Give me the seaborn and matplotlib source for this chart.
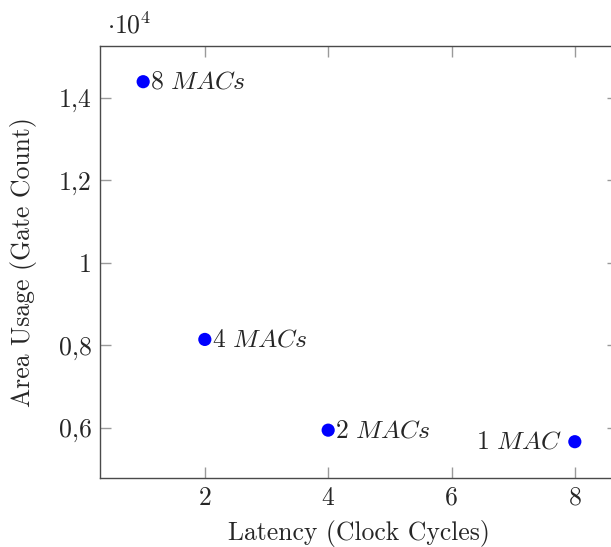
import numpy as np
import pandas as pd
import matplotlib
matplotlib.use("Agg")
import matplotlib.pyplot as plt
import seaborn as sns

# Design points: latency vs. area for different numbers of MAC units
latency = [1, 2, 4, 8]
area = [14390, 8140, 5940, 5660]
point_labels = [r"$8\ MACs$", r"$4\ MACs$", r"$2\ MACs$", r"$1\ MAC$"]
label_side = ["right", "right", "right", "left"]

xticks = [2, 4, 6, 8]
yticks = [6000, 8000, 10000, 12000, 14000]
ytick_labels = ["0,6", "0,8", "1", "1,2", "1,4"]

sns.set_style("ticks")
plt.rcParams["font.family"] = "serif"
plt.rcParams["font.serif"] = ["cmr10"]
plt.rcParams["mathtext.fontset"] = "cm"
plt.rcParams["axes.unicode_minus"] = False
plt.rcParams["axes.formatter.use_mathtext"] = True

FS = 18.5

df = pd.DataFrame({"latency": latency, "area": area})

fig = plt.figure(figsize=(6.11, 5.47), dpi=100)
W, H = 611, 547
ax = fig.add_axes([100 / W, (H - 477.7) / H, 518 / W, 432 / H])

sns.scatterplot(data=df, x="latency", y="area", ax=ax, color="#0000ff",
                s=90, edgecolor="none", linewidth=0, zorder=3)

# enlarge axis limits by 10% of the data range on each side
def enlarged(v, frac=0.1):
    lo, hi = min(v), max(v)
    pad = (hi - lo) * frac
    return lo - pad, hi + pad

ax.set_xlim(*enlarged(latency))
ax.set_ylim(*enlarged(area))

ax.set_xticks(xticks)
ax.set_xticklabels([str(t) for t in xticks], fontsize=FS)
ax.set_yticks(yticks)
ax.set_yticklabels(ytick_labels, fontsize=FS)

ax.tick_params(axis="both", which="both", direction="in", length=8,
               width=1.0, color="#9a9a9a", pad=6,
               top=True, right=True, labeltop=False, labelright=False)

for sp in ax.spines.values():
    sp.set_visible(True)
    sp.set_color("#4a4a4a")
    sp.set_linewidth(1.0)

ax.set_xlabel("Latency (Clock Cycles)", fontsize=FS)
ax.set_ylabel("Area Usage (Gate Count)", fontsize=FS)
ax.xaxis.set_label_coords(0.5, -0.098)
ax.yaxis.set_label_coords(-0.121, 0.5)

for x, y, lab, side in zip(latency, area, point_labels, label_side):
    if side == "right":
        ax.annotate(lab, (x, y), xytext=(5, 0), textcoords="offset points",
                    ha="left", va="center", fontsize=FS, zorder=4)
    else:
        ax.annotate(lab, (x, y), xytext=(-9, 0), textcoords="offset points",
                    ha="right", va="center", fontsize=FS, zorder=4)

# axis multiplier above the y axis
fig.text(107 / W, 1 - 33 / H, r"$\cdot 10^{4}$", fontsize=FS,
         ha="left", va="baseline")

fig.savefig("out.png", dpi=100)
